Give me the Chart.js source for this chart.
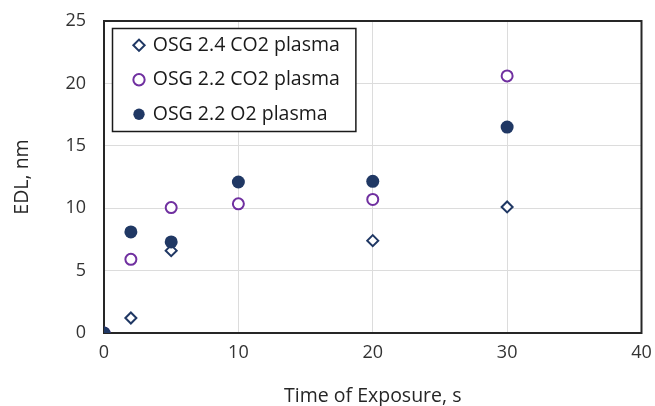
<!DOCTYPE html>
<html>
<head>
<meta charset="utf-8">
<script src="https://cdn.jsdelivr.net/npm/chart.js@4"></script>
<style>
  body { margin: 0; background: #fff; }
  #wrap { width: 655px; height: 406px; }
</style>
</head>
<body>
<div id="wrap"><canvas id="grafico"></canvas></div>
<script>
// exposure times (s) and EDL (nm) for each sample
const tempoCO2_24 = [0, 2, 5, 20, 30];
const edlCO2_24 = [0, 1.2, 6.6, 7.4, 10.1];

const tempoCO2_22 = [0, 2, 5, 10, 20, 30];
const edlCO2_22 = [0, 5.9, 10.05, 10.35, 10.7, 20.6];

const tempoO2_22 = [0, 2, 5, 10, 20, 30];
const edlO2_22 = [0, 8.1, 7.3, 12.1, 12.15, 16.5];

const nomes = ["OSG 2.4 CO2 plasma", "OSG 2.2 CO2 plasma", "OSG 2.2 O2 plasma"];
const xTitulo = "Time of Exposure, s";
const yTitulo = "EDL, nm";

const azul = "#203864";
const roxo = "#7030A0";
const fonte = "'Open Sans', sans-serif";

function pontos(xs, ys) {
    return xs.map((x, i) => ({ x: x, y: ys[i] }));
}

// box around the chart area
const moldura = {
    id: "moldura",
    beforeDatasetsDraw(chart) {
        const a = chart.chartArea;
        const ctx = chart.ctx;
        ctx.save();
        ctx.strokeStyle = "#262626";
        ctx.lineWidth = 2;
        ctx.strokeRect(a.left, a.top, a.right - a.left, a.bottom - a.top);
        ctx.restore();
    }
};

// legend sits inside the plot, with white fill and a black frame
const caixaLegenda = {
    id: "caixaLegenda",
    afterLayout(chart) {
        const lg = chart.legend;
        const a = chart.chartArea;
        lg.left = a.left + 16;
        lg.right = lg.left + lg.width;
        lg.top = a.top - 0.5;
        lg.bottom = lg.top + lg.height;
        if (lg._comCaixa) return;
        lg._comCaixa = true;
        const desenhar = lg.draw;
        lg.draw = function () {
            const ctx = this.ctx;
            const op = this.options.labels;
            ctx.save();
            ctx.font = op.font.size + "px " + fonte;
            let larg = 0;
            this.legendItems.forEach(it => { larg = Math.max(larg, ctx.measureText(it.text).width); });
            const textoX = this.left + op.padding + op.boxWidth + op.font.size / 2;
            const x0 = this.left - 7.5;
            const y0 = this.top + 8;
            const x1 = textoX + larg + 16;
            const y1 = y0 + 103;
            ctx.fillStyle = "#fff";
            ctx.fillRect(x0, y0, x1 - x0, y1 - y0);
            ctx.strokeStyle = "#1a1a1a";
            ctx.lineWidth = 1.5;
            ctx.strokeRect(x0, y0, x1 - x0, y1 - y0);
            ctx.restore();
            desenhar.call(this);
        };
    }
};

function criarGrafico() {
    const canvas = document.getElementById("grafico");

    new Chart(canvas, {
        type: "scatter",
        data: {
            datasets: [
                {
                    label: nomes[0],
                    data: pontos(tempoCO2_24, edlCO2_24),
                    pointStyle: "rectRot",
                    pointRadius: 5.5,
                    pointHoverRadius: 5.5,
                    borderColor: azul,
                    backgroundColor: "#fff",
                    borderWidth: 2,
                    order: 1
                },
                {
                    label: nomes[1],
                    data: pontos(tempoCO2_22, edlCO2_22),
                    pointStyle: "circle",
                    pointRadius: 5.5,
                    pointHoverRadius: 5.5,
                    borderColor: roxo,
                    backgroundColor: "#fff",
                    borderWidth: 2,
                    order: 2
                },
                {
                    label: nomes[2],
                    data: pontos(tempoO2_22, edlO2_22),
                    pointStyle: "circle",
                    pointRadius: 6.5,
                    pointHoverRadius: 6.5,
                    borderColor: azul,
                    backgroundColor: azul,
                    borderWidth: 0,
                    order: 0
                }
            ]
        },
        options: {
            responsive: true,
            maintainAspectRatio: false,
            animation: false,
            layout: { padding: { top: 21, right: 13.5, left: 0, bottom: 0 } },
            plugins: {
                tooltip: { enabled: false },
                legend: {
                    position: "chartArea",
                    align: "start",
                    labels: {
                        usePointStyle: true,
                        boxWidth: 8,
                        boxHeight: 8,
                        padding: 15,
                        color: "#1a1a1a",
                        font: { family: fonte, size: 19.5 },
                        sort: (a, b) => a.datasetIndex - b.datasetIndex
                    }
                }
            },
            scales: {
                x: {
                    type: "linear",
                    min: 0,
                    max: 40,
                    ticks: { stepSize: 10, padding: 0, color: "#333", font: { family: fonte, size: 18 } },
                    grid: { color: "#dcdcdc", tickColor: "rgba(0,0,0,0)", tickLength: 9 },
                    border: { display: false },
                    title: {
                        display: true,
                        text: xTitulo,
                        color: "#262626",
                        padding: 0,
                        font: { family: fonte, size: 19.5, lineHeight: 1 }
                    },
                    afterFit: s => { s.height = 73; }
                },
                y: {
                    min: 0,
                    max: 25,
                    ticks: { stepSize: 5, padding: 0, color: "#333", font: { family: fonte, size: 18 } },
                    grid: { color: "#dcdcdc", tickColor: "rgba(0,0,0,0)", tickLength: 18 },
                    border: { display: false },
                    title: {
                        display: true,
                        text: yTitulo,
                        color: "#262626",
                        padding: { top: 13, bottom: 0 },
                        font: { family: fonte, size: 19.5, lineHeight: 1 }
                    },
                    afterFit: s => { s.width = 104; }
                }
            }
        },
        plugins: [moldura, caixaLegenda]
    });
}

window.onload = criarGrafico;
</script>
</body>
</html>
